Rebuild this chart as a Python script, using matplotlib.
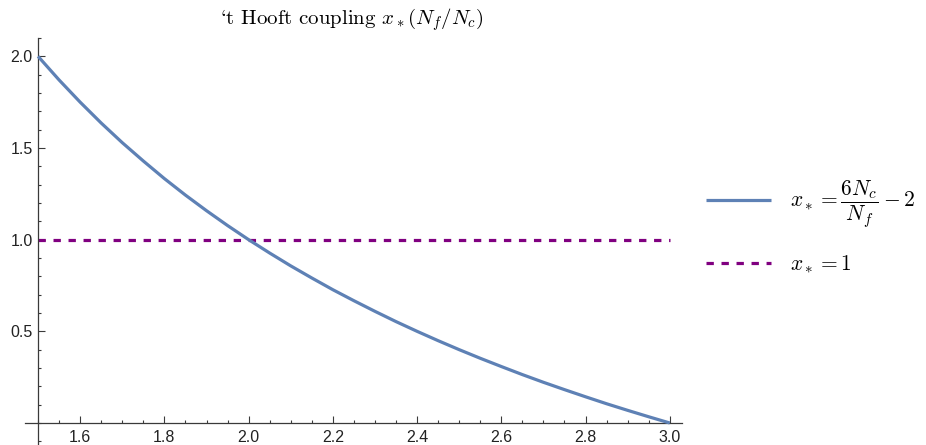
"""'t Hooft coupling x_*(N_f/N_c) curve with x_* = 1 reference line."""

import matplotlib
matplotlib.use("Agg")
import matplotlib.pyplot as plt
from matplotlib.ticker import MultipleLocator, FixedLocator

plt.rcParams["mathtext.fontset"] = "cm"
plt.rcParams["font.family"] = ["Liberation Sans", "DejaVu Sans"]

# values
ratio = [1.50, 1.55, 1.60, 1.65, 1.70, 1.75, 1.80, 1.85, 1.90, 1.95, 2.00,
         2.05, 2.10, 2.15, 2.20, 2.25, 2.30, 2.35, 2.40, 2.45, 2.50,
         2.55, 2.60, 2.65, 2.70, 2.75, 2.80, 2.85, 2.90, 2.95, 3.00]
x_star = [2.000, 1.871, 1.750, 1.636, 1.529, 1.429, 1.333, 1.243, 1.158, 1.077, 1.000,
          0.927, 0.857, 0.791, 0.727, 0.667, 0.609, 0.553, 0.500, 0.449, 0.400,
          0.353, 0.308, 0.264, 0.222, 0.182, 0.143, 0.105, 0.069, 0.034, 0.000]
const_x = [1.5, 3.0]
const_y = [1.0, 1.0]

x_major = [1.6, 1.8, 2.0, 2.2, 2.4, 2.6, 2.8, 3.0]
y_major = [0.5, 1.0, 1.5, 2.0]

BLUE = "#5E81B5"
PURPLE = "#800080"
AXIS = "#3a3a3a"

fig = plt.figure(figsize=(9.26, 4.45), dpi=100)
ax = fig.add_axes([25 / 926, 0.0, (682 - 25) / 926, (445 - 38) / 445])

ax.plot(ratio, x_star, color=BLUE, lw=2.3, solid_capstyle="butt",
        label=r"$x_* = \dfrac{6N_c}{N_f} - 2$", clip_on=False, zorder=3)
ax.plot(const_x, const_y, color=PURPLE, lw=2.3, dashes=(2.3, 2.4),
        label=r"$x_* = 1$", zorder=2)

ax.set_xlim(1.469, 3.029)
ax.set_ylim(-0.12, 2.1)

for side in ("top", "right"):
    ax.spines[side].set_visible(False)
ax.spines["left"].set_position(("data", 1.5))
ax.spines["bottom"].set_position(("data", 0.0))
for side in ("left", "bottom"):
    ax.spines[side].set_color(AXIS)
    ax.spines[side].set_linewidth(0.9)

ax.xaxis.set_major_locator(FixedLocator(x_major))
ax.xaxis.set_minor_locator(MultipleLocator(0.05))
ax.yaxis.set_major_locator(FixedLocator(y_major))
ax.yaxis.set_minor_locator(MultipleLocator(0.1))
ax.set_xticklabels([f"{v:.1f}" for v in x_major])
ax.set_yticklabels([f"{v:.1f}" for v in y_major])

ax.tick_params(which="both", direction="in", color=AXIS, labelcolor="#222222",
               labelsize=11.5, width=0.8)
ax.tick_params(which="major", length=5)
ax.tick_params(which="minor", length=2.5)
ax.tick_params(axis="x", pad=5)
ax.tick_params(axis="y", pad=4)

fig.text(352 / 926, 1 - 20 / 445, "`t Hooft coupling $x_*(N_f/N_c)$",
         ha="center", va="center", fontsize=15,
         family=["cmr10", "DejaVu Serif"])

leg = ax.legend(loc="center left", bbox_to_anchor=(0.742, 0.49),
                bbox_transform=fig.transFigure, frameon=False, fontsize=15.5,
                handlelength=3.0, handletextpad=0.9, labelspacing=1.1)

fig.savefig("out.png", dpi=100)
